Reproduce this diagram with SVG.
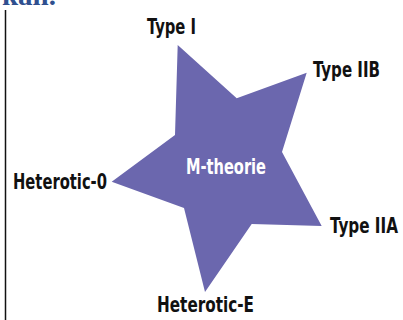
<svg xmlns="http://www.w3.org/2000/svg" width="403" height="320" viewBox="0 0 403 320">
<style>
.lbl{font-family:"Liberation Sans Narrow","DejaVu Sans Condensed","Liberation Sans",sans-serif;font-weight:bold;font-size:21px;fill:#111}
.mt{fill:#fff}
</style>
<rect width="403" height="320" fill="#fff"/>
<text x="2" y="5" font-family="'Liberation Serif',serif" font-weight="bold" font-size="28" fill="#2F4F8F" textLength="54" lengthAdjust="spacingAndGlyphs">kan.</text>
<line x1="5.5" y1="10" x2="5.5" y2="320" stroke="#111" stroke-width="1.5"/>
<g id="m-theorie">
<polygon points="177.7,45 236.7,98.3 306.7,72.7 282,152 321.7,226 251.7,224 205,292 184,208 111.7,181.7 175,135" fill="#6B67AE"/>
<text class="lbl mt" x="186" y="174" textLength="80" lengthAdjust="spacingAndGlyphs">M-theorie</text>
</g>
<g id="type-i"><text class="lbl" x="147" y="34" textLength="49" lengthAdjust="spacingAndGlyphs">Type I</text></g>
<g id="type-iib"><text class="lbl" x="313" y="77" textLength="67" lengthAdjust="spacingAndGlyphs">Type IIB</text></g>
<g id="type-iia"><text class="lbl" x="330" y="233" textLength="68" lengthAdjust="spacingAndGlyphs">Type IIA</text></g>
<g id="heterotic-0"><text class="lbl" x="13" y="189" textLength="94" lengthAdjust="spacingAndGlyphs">Heterotic-0</text></g>
<g id="heterotic-e"><text class="lbl" x="157" y="312" textLength="97" lengthAdjust="spacingAndGlyphs">Heterotic-E</text></g>
<g id="connectors"></g>
</svg>
